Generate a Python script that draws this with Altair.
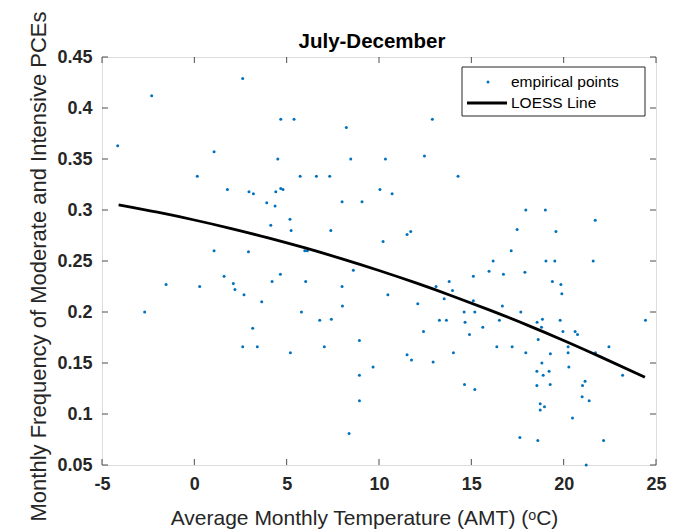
import altair as alt
import pandas as pd

# ---- data ----
x_vals = [2.62, -2.31, 4.68, 5.40, 8.23, -4.15, 1.07, 4.52, 8.47, 0.16, 5.73, 6.61, 7.33,
          1.79, 2.96, 3.20, 4.41, 4.68, 4.80, 10.05, 3.92, 4.37, 8.00, 9.08, 5.18, 4.14,
          5.24, 7.39, 1.07, 2.93, 5.98, 6.12, 8.61, 1.61, 4.66, -1.53, 0.29, 2.11, 2.20,
          4.21, 6.03, 8.00, 2.69, 3.65, 8.02, -2.69, 5.80, 6.79, 7.42, 3.16, 2.62, 3.41,
          5.20, 7.04, 8.94, 9.68, 8.94, 8.94, 8.38, 12.89, 10.35, 12.46, 14.28, 10.71,
          17.95, 19.01, 21.71, 17.48, 19.58, 11.52, 11.72, 10.22, 17.16, 16.18, 19.04,
          19.52, 21.60, 15.96, 16.74, 17.90, 15.11, 13.80, 19.39, 19.85, 19.90, 10.48,
          13.09, 13.98, 13.53, 12.10, 15.11, 16.68, 14.61, 15.19, 17.68, 13.27, 13.65,
          14.66, 16.52, 18.85, 18.56, 19.81, 24.43, 15.62, 18.80, 12.41, 14.90, 19.96,
          20.62, 20.75, 18.62, 16.38, 17.21, 20.24, 22.45, 11.52, 14.03, 17.95, 19.28,
          20.24, 21.72, 11.76, 12.93, 18.82, 18.55, 19.21, 20.28, 18.89, 23.19, 21.16,
          14.63, 19.27, 18.55, 21.02, 15.19, 21.00, 21.38, 18.73, 18.96, 18.73, 20.48,
          17.63, 18.60, 22.16, 21.22]
y_vals = [0.429, 0.412, 0.389, 0.389, 0.381, 0.363, 0.357, 0.350, 0.350, 0.333, 0.333, 0.333, 0.333,
          0.320, 0.318, 0.316, 0.318, 0.321, 0.320, 0.320, 0.307, 0.304, 0.308, 0.308, 0.291, 0.285,
          0.280, 0.280, 0.260, 0.259, 0.260, 0.260, 0.241, 0.235, 0.237, 0.227, 0.225, 0.228, 0.222,
          0.230, 0.230, 0.225, 0.217, 0.210, 0.206, 0.200, 0.200, 0.192, 0.193, 0.184, 0.166, 0.166,
          0.160, 0.166, 0.172, 0.146, 0.138, 0.113, 0.081, 0.389, 0.350, 0.353, 0.333, 0.316,
          0.300, 0.300, 0.290, 0.281, 0.279, 0.276, 0.279, 0.269, 0.260, 0.250, 0.250,
          0.250, 0.250, 0.240, 0.237, 0.239, 0.235, 0.230, 0.230, 0.227, 0.218, 0.217,
          0.225, 0.221, 0.213, 0.208, 0.211, 0.206, 0.200, 0.200, 0.200, 0.192, 0.192,
          0.190, 0.192, 0.193, 0.190, 0.192, 0.192, 0.185, 0.185, 0.181, 0.178, 0.181,
          0.181, 0.178, 0.173, 0.166, 0.166, 0.166, 0.166, 0.158, 0.160, 0.160, 0.159,
          0.160, 0.160, 0.153, 0.151, 0.150, 0.142, 0.142, 0.146, 0.138, 0.138, 0.132,
          0.129, 0.129, 0.128, 0.128, 0.124, 0.117, 0.113, 0.110, 0.107, 0.104, 0.096,
          0.077, 0.074, 0.074, 0.050]

loess_x = [-4.1, -2, 0, 2, 4, 6, 8, 10, 12, 14, 16, 18, 20, 22, 24.4]
loess_y = [0.305, 0.2978, 0.2902, 0.2818, 0.2727, 0.2628, 0.2521, 0.2407, 0.2285,
           0.2155, 0.2018, 0.1874, 0.1721, 0.156, 0.136]

x_ticks = [-5, 0, 5, 10, 15, 20, 25]
y_ticks = [0.05, 0.1, 0.15, 0.2, 0.25, 0.3, 0.35, 0.4, 0.45]

legend_labels = ["empirical points", "LOESS Line"]
title_text = "July-December"
x_title = "Average Monthly Temperature (AMT) (ᵒC)"
y_title = "Monthly Frequency of Moderate and Intensive PCEs"

# ---- layout / style ----
W, H = 554, 408
FONT = "Liberation Sans"
TXT = "#262626"
BLUE = "#0072BD"

pts = pd.DataFrame({"x": x_vals, "y": y_vals})
lo = pd.DataFrame({"x": loess_x, "y": loess_y})
xt = pd.DataFrame({"x": x_ticks})
yt = pd.DataFrame({"y": y_ticks})
one = pd.DataFrame({"a": [0]})

xscale = alt.Scale(domain=[-5, 25], nice=False, zero=False)
yscale = alt.Scale(domain=[0.05, 0.45], nice=False, zero=False)

xaxis = alt.Axis(values=x_ticks, labelExpr="'' + datum.value", ticks=False, grid=False,
                 domain=False, labelFont=FONT, labelFontSize=18, labelFontWeight="bold",
                 labelColor=TXT, labelPadding=10, labelFlush=False,
                 title=x_title, titleFont=FONT, titleFontSize=21, titleFontWeight="normal",
                 titleColor=TXT, titlePadding=14, titleX=262, titleAlign="center")
yaxis = alt.Axis(values=y_ticks, format=".2~f", ticks=False, grid=False, domain=False,
                 labelFont=FONT, labelFontSize=18, labelFontWeight="bold", labelColor=TXT,
                 labelPadding=10, labelFlush=False,
                 title=y_title, titleFont=FONT, titleFontSize=22, titleFontWeight="normal",
                 titleColor=TXT, titlePadding=6, titleY=209)

X = alt.X("x:Q", scale=xscale, axis=xaxis)
Y = alt.Y("y:Q", scale=yscale, axis=yaxis)

scatter = alt.Chart(pts).mark_circle(size=9, color=BLUE, opacity=1).encode(x=X, y=Y)

line = alt.Chart(lo).mark_line(color="black", strokeWidth=2.8,
                               interpolate="monotone").encode(x=X, y=Y)

TK = 6
tick_col = "#4d4d4d"
tb = alt.Chart(xt).mark_rule(color=tick_col, strokeWidth=1).encode(
    x=X, y=alt.value(H), y2=alt.value(H - TK))
tt = alt.Chart(xt).mark_rule(color=tick_col, strokeWidth=1).encode(
    x=X, y=alt.value(0), y2=alt.value(TK))
tl = alt.Chart(yt).mark_rule(color=tick_col, strokeWidth=1).encode(
    y=Y, x=alt.value(0), x2=alt.value(TK))
tr = alt.Chart(yt).mark_rule(color=tick_col, strokeWidth=1).encode(
    y=Y, x=alt.value(W), x2=alt.value(W - TK))

# ---- chart title (as text above the axes box) ----
title_mark = alt.Chart(one).mark_text(align="center", baseline="alphabetic", font=FONT,
                                      fontSize=20.5, fontWeight="bold", color="black").encode(
    x=alt.value(W / 2 - 7), y=alt.value(-9), text=alt.value(title_text))

# ---- legend box (MATLAB style) ----
lg_box = alt.Chart(one).mark_rect(fill="white", stroke=TXT, strokeWidth=1).encode(
    x=alt.value(360), x2=alt.value(543), y=alt.value(10), y2=alt.value(59))
lg_dot = alt.Chart(one).mark_circle(size=9, color=BLUE, opacity=1).encode(
    x=alt.value(386), y=alt.value(25))
lg_line = alt.Chart(one).mark_rule(color="black", strokeWidth=2.8).encode(
    x=alt.value(365), x2=alt.value(405), y=alt.value(46))
lg_t1 = alt.Chart(one).mark_text(align="left", baseline="middle", font=FONT, fontSize=15.5,
                                 color="black").encode(
    x=alt.value(409), y=alt.value(25), text=alt.value(legend_labels[0]))
lg_t2 = alt.Chart(one).mark_text(align="left", baseline="middle", font=FONT, fontSize=15.5,
                                 color="black").encode(
    x=alt.value(409), y=alt.value(46), text=alt.value(legend_labels[1]))

chart = alt.layer(
    scatter, line, tb, tt, tl, tr, title_mark, lg_box, lg_dot, lg_line, lg_t1, lg_t2
).properties(
    width=W, height=H,
    autosize=alt.AutoSizeParams(type="none"),
    padding={"left": 102, "top": 57, "right": 21, "bottom": 66},
).configure_view(
    stroke="#858585", strokeWidth=1
).configure(background="white")

chart.save("out.html", embed_options={"renderer": "svg", "actions": False})
